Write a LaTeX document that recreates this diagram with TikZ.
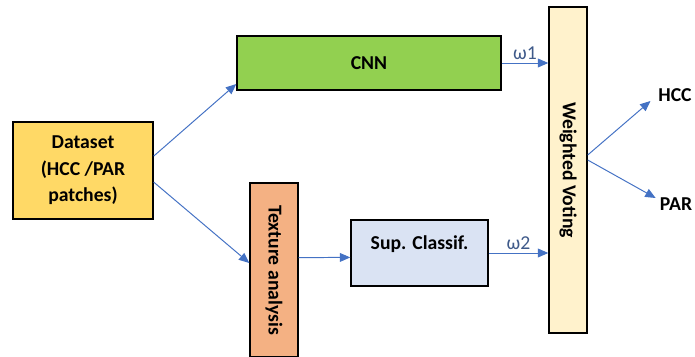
\documentclass[tikz,border=0pt]{standalone}
\usepackage{fontspec}
\setmainfont{Carlito}
\usetikzlibrary{positioning,arrows.meta}
\definecolor{dataYellow}{HTML}{FFD966}
\definecolor{cnnGreen}{HTML}{92D050}
\definecolor{texOrange}{HTML}{F4B183}
\definecolor{supBlue}{HTML}{DAE3F3}
\definecolor{voteCream}{HTML}{FFF2CC}
\definecolor{arrowBlue}{HTML}{4472C4}
\definecolor{weightText}{HTML}{3F5A8A}

\begin{document}
\begin{tikzpicture}[
        x=0.025cm, y=-0.025cm,
        every node/.style={font=\fontsize{14}{18.8}\selectfont\bfseries},
        block/.style={draw=black, line width=1pt, inner sep=0pt, align=center},
        flow/.style={draw=arrowBlue, line width=0.7pt, -{Triangle[length=2.6mm,width=2.2mm]}},
        weight/.style={font=\fontsize{14}{17}\selectfont, text=weightText, inner sep=2pt}
    ]
    \useasboundingbox (0,0) rectangle (695,356);
    \clip (0,0) rectangle (695,356);
    \node[block, fill=dataYellow, minimum width=3.5cm, minimum height=2.425cm] (data) at (83,170.5) {Dataset\\(HCC /PAR\\patches)};
    \node[block, fill=cnnGreen, minimum width=6.6cm, minimum height=1.35cm] (cnn) at (369,63) {CNN};
    \node[block, fill=texOrange, minimum width=1.2cm, minimum height=4.35cm] (tex) at (274,270) {\rotatebox{-90}{Texture analysis}};
    \node[block, fill=supBlue, minimum width=3.425cm, minimum height=1.65cm, text height=10pt, text depth=15pt] (sup) at (419.5,253) {Sup. Classif.};
    \node[block, fill=voteCream, minimum width=0.95cm, minimum height=8.15cm] (vote) at (568,170) {\rotatebox{-90}{Weighted Voting}};
    \node[inner sep=0pt] (hcc) at (675,95) {HCC};
    \node[inner sep=0pt] (par) at (676,204) {PAR};
    % connectors
    \draw[flow] ([yshift=0.36cm]data.east) -- ([yshift=-0.525cm]cnn.west);
    \draw[flow] ([yshift=-0.29cm]data.east) -- ([yshift=0.175cm]tex.west);
    \draw[flow] ([yshift=0.31cm]tex.east) -- ([yshift=-0.11cm]sup.west);
    \draw[flow] (cnn.east) -- (cnn.east -| vote.west) node[weight, midway, above] {ω1};
    \draw[flow] (sup.east) -- (sup.east -| vote.west) node[weight, midway, above] {ω2};
    \draw[flow] ([yshift=0.375cm]vote.east) -- ([xshift=-0.19cm,yshift=-0.15cm]hcc.west);
    \draw[flow] ([yshift=0.25cm]vote.east) -- ([xshift=-0.1cm,yshift=0.15cm]par.west);
\end{tikzpicture}
\end{document}
